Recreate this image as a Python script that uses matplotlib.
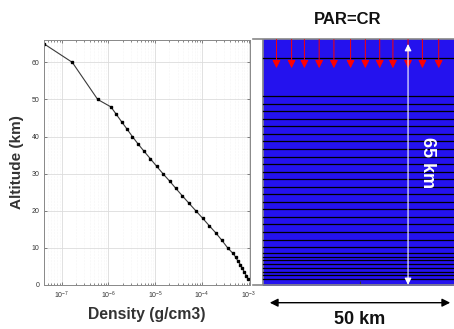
import numpy as np
import matplotlib.pyplot as plt
from matplotlib.patches import FancyArrowPatch
from matplotlib.ticker import LogLocator, NullFormatter

plt.rcParams['font.family'] = ['Liberation Sans', 'DejaVu Sans']

# Density profile
altitude = [65, 60, 50, 48, 46, 44, 42, 40, 38, 36, 34, 32, 30, 28, 26, 24, 22, 20,
            18, 16, 14, 12, 10, 8.5, 7.5, 6.5, 5.5, 4.5, 3.5, 2.5, 1.5]
density = [4.2e-8, 1.69e-7, 5.9e-7, 1.13e-6, 1.47e-6, 1.91e-6, 2.5e-6, 3.25e-6,
           4.3e-6, 5.8e-6, 7.9e-6, 1.07e-5, 1.46e-5, 2.03e-5, 2.77e-5, 3.81e-5,
           5.28e-5, 7.36e-5, 1.03e-4, 1.42e-4, 1.98e-4, 2.67e-4, 3.53e-4, 4.59e-4,
           5.25e-4, 5.8e-4, 6.6e-4, 7.3e-4, 8.0e-4, 8.9e-4, 9.8e-4]

# Right panel: incoming particle arrows (km across a 50 km box)
arrow_x = [3.5, 7.4, 10.7, 14.5, 18.3, 22.6, 26.4, 30.1, 33.5, 37.4, 41.1, 45.3]
box_width = 50
box_height = 65

fig = plt.figure(figsize=(4.54, 3.29), dpi=100)

# ---- left panel: density vs altitude ----
ax1 = fig.add_axes([0.097, 0.134, 0.454, 0.744])
ax1.plot(density, altitude, color='#3a3a3a', linewidth=0.8,
         marker='s', markersize=1.6, markerfacecolor='black', markeredgecolor='black')
ax1.set_xscale('log')
ax1.set_xlim(4.2e-8, 1.07e-3)
ax1.set_ylim(0, 66)
ax1.set_yticks([0, 10, 20, 30, 40, 50, 60])
ax1.xaxis.set_major_locator(LogLocator(base=10, numticks=10))
ax1.xaxis.set_minor_locator(LogLocator(base=10, subs=np.arange(2, 10), numticks=50))
ax1.xaxis.set_minor_formatter(NullFormatter())
ax1.grid(True, which='major', color='#dcdcdc', linewidth=0.6)
ax1.grid(True, which='minor', color='#ececec', linewidth=0.4, linestyle=':')
ax1.tick_params(which='both', direction='in', top=True, right=True,
                labelsize=5, labelcolor='#333333', color='#555555', length=2, width=0.5)
ax1.tick_params(which='minor', length=1.2)
for s in ax1.spines.values():
    s.set_color('#888888')
    s.set_linewidth(0.7)
ax1.set_ylabel('Altitude (km)', fontsize=11, fontweight='bold', color='#333333', labelpad=5)
ax1.set_xlabel('Density (g/cm3)', fontsize=11.3, fontweight='bold', color='#333333', labelpad=4)

# ---- right panel: layered atmosphere box ----
x_left = -10 * box_width / 194
ax2 = fig.add_axes([0.557, 0.134, 0.4495, 0.746])
ax2.set_xlim(x_left, box_width)
ax2.set_ylim(0, box_height)
ax2.fill_between([0, box_width], 0, box_height, color='#2412ee', zorder=0)
ax2.axvline(0, color='#888888', linewidth=1.2)
for h in altitude[1:]:
    ax2.axhline(h, xmin=(0 - x_left) / (box_width - x_left), color='black', linewidth=0.9)

for x in arrow_x:
    ax2.annotate('', xy=(x, 57.4), xytext=(x, box_height),
                 arrowprops=dict(arrowstyle='-|>', color='#ff0000', lw=0.7,
                                 mutation_scale=12, shrinkA=0, shrinkB=0))

ax2.annotate('', xy=(37.4, 63.8), xytext=(37.4, 0),
             arrowprops=dict(arrowstyle='<|-|>', color='white', lw=0.8,
                             mutation_scale=10, shrinkA=0, shrinkB=0))
ax2.text(42.5, 32.3, '65 km', color='white', fontsize=13, fontweight='bold',
         rotation=-90, ha='center', va='center')

ax2.set_xticks([box_width / 2])
ax2.set_xticklabels([])
ax2.set_yticks([])
ax2.tick_params(axis='x', direction='in', length=3, color='#333333')
ax2.spines['left'].set_visible(False)
for s in ['top', 'bottom', 'right']:
    ax2.spines[s].set_color('#888888')
    ax2.spines[s].set_linewidth(1.2)
ax2.set_title('PAR=CR', fontsize=12, fontweight='bold', color='#111111', pad=11, x=0.466)

# width arrow and label below the box
fig.patches.append(FancyArrowPatch(
    (267 / 454, 1 - 302.7 / 329), (453 / 454, 1 - 302.7 / 329),
    transform=fig.transFigure, arrowstyle='<|-|>', mutation_scale=12,
    color='black', lw=1.0))
fig.text(360 / 454, 1 - 320 / 329, '50 km', fontsize=13, fontweight='bold',
         ha='center', va='center', color='#111111')

fig.savefig('out.png', dpi=100)
